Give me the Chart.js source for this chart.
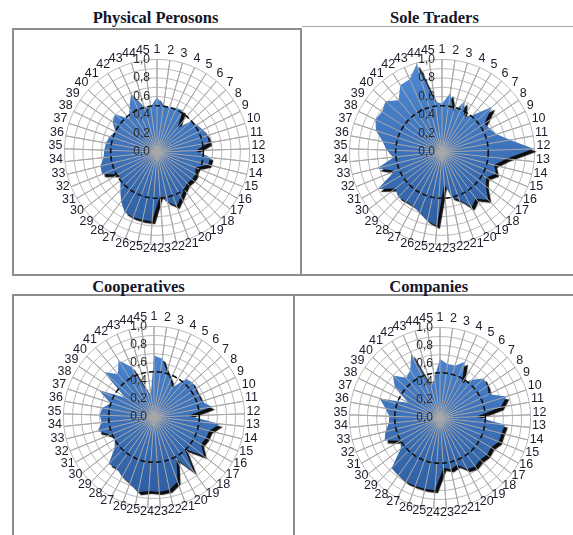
<!DOCTYPE html>
<html>
<head>
<meta charset="utf-8">
<script src="https://cdn.jsdelivr.net/npm/chart.js@4.4.1/dist/chart.umd.min.js"></script>
<style>
  html, body { margin: 0; padding: 0; background: #fff; }
  body { width: 573px; height: 535px; position: relative; overflow: hidden; }
  canvas { position: absolute; }
  .title { position: absolute; width: 240px; text-align: center; font-family: "Liberation Serif", "Times New Roman", serif;
           font-weight: bold; font-size: 16.5px; line-height: 20px; color: #15152a; white-space: nowrap; }
  .ln { position: absolute; background: #8c8c8c; }
</style>
</head>
<body>
<!-- frames -->
<div class="ln" style="left:12px;top:28px;width:290px;height:2px"></div>
<div class="ln" style="left:12px;top:28px;width:2px;height:248px"></div>
<div class="ln" style="left:300px;top:28px;width:2px;height:248px"></div>
<div class="ln" style="left:12px;top:274px;width:561px;height:2px"></div>
<div class="ln" style="left:302px;top:26px;width:271px;height:1px;background:#a8a8a8"></div>
<div class="ln" style="left:12px;top:294px;width:561px;height:2px"></div>
<div class="ln" style="left:12px;top:294px;width:2px;height:241px"></div>
<div class="ln" style="left:293px;top:294px;width:2px;height:241px"></div>

<div class="title" style="left:35.5px;top:8px">Physical Perosons</div>
<div class="title" style="left:314.5px;top:7.5px">Sole Traders</div>
<div class="title" style="left:18.5px;top:276.5px">Cooperatives</div>
<div class="title" style="left:308.7px;top:276.5px">Companies</div>

<canvas id="c1" width="219" height="219" style="left:48px;top:43px"></canvas>
<canvas id="c2" width="219" height="219" style="left:333px;top:43px"></canvas>
<canvas id="c3" width="215" height="215" style="left:47px;top:310px"></canvas>
<canvas id="c4" width="215" height="215" style="left:333px;top:311px"></canvas>

<script>
// ---- data ----
const categories = ['1','2','3','4','5','6','7','8','9','10','11','12','13','14','15','16','17','18','19','20',
  '21','22','23','24','25','26','27','28','29','30','31','32','33','34','35','36','37','38','39','40',
  '41','42','43','44','45'];

const physicalPersons = [0.59,0.50,0.50,0.52,0.53,0.34,0.50,0.52,0.55,0.57,0.57,0.42,0.58,0.57,0.45,
  0.48,0.48,0.47,0.50,0.55,0.62,0.55,0.47,0.75,0.75,0.75,0.74,0.66,0.57,0.50,
  0.48,0.64,0.63,0.58,0.57,0.56,0.54,0.50,0.58,0.61,0.47,0.56,0.69,0.50,0.49];

const soleTraders = [0.52,0.64,0.45,0.60,0.45,0.52,0.73,0.55,0.57,0.62,0.75,0.99,0.70,0.58,0.63,
  0.55,0.60,0.72,0.62,0.68,0.55,0.50,0.35,0.80,0.76,0.70,0.66,0.66,0.68,0.64,
  0.80,0.55,0.72,0.52,0.60,0.65,0.75,0.80,0.78,0.82,0.73,0.85,0.86,0.99,0.55];

const cooperatives = [0.68,0.65,0.52,0.45,0.38,0.55,0.57,0.55,0.55,0.55,0.65,0.38,0.73,0.63,0.62,
  0.60,0.70,0.49,0.75,0.53,0.76,0.82,0.83,0.82,0.85,0.78,0.75,0.70,0.72,0.55,
  0.50,0.52,0.64,0.58,0.60,0.58,0.50,0.68,0.38,0.74,0.62,0.74,0.60,0.30,0.25];

const companies = [0.65,0.60,0.60,0.68,0.45,0.55,0.65,0.63,0.60,0.77,0.68,0.40,0.72,0.70,0.70,
  0.65,0.66,0.64,0.66,0.64,0.55,0.58,0.55,0.80,0.80,0.80,0.80,0.78,0.77,0.55,
  0.50,0.66,0.62,0.57,0.56,0.61,0.70,0.38,0.60,0.70,0.58,0.62,0.78,0.35,0.45];

const tickValues = [0, 0.2, 0.4, 0.6, 0.8, 1.0];
const tickLabels = ['0,0', '0,2', '0,4', '0,6', '0,8', '1,0'];
const referenceLevel = 0.5;

// ---- style ----
const RING_COLOR = '#b9b9b9';
const SPOKE_COLOR = '#a9a9a9';
const LABEL_FONT = '"Liberation Sans", Arial, sans-serif';
const TICK_FONT = '12px "Liberation Sans Narrow", "Liberation Sans", Arial, sans-serif';
const LABEL_COLOR = '#1d1d2b';
const LABEL_SIZE = 12.5;
const LABEL_PAD = 2;
const LABEL_H = 10;
const LABEL_SHIFT = 2.5;

const overlay = {
  id: 'overlay',
  beforeDatasetsDraw(chart) {
    const ctx = chart.ctx;
    ctx.save();
    ctx.shadowColor = 'rgba(0,0,0,0.95)';
    ctx.shadowOffsetX = 3;
    ctx.shadowOffsetY = 3;
    ctx.shadowBlur = 1;
  },
  afterDatasetsDraw(chart) {
    const ctx = chart.ctx;
    ctx.restore();
    const s = chart.scales.r;
    const labels = chart.data.labels;
    const n = labels.length;
    ctx.save();
    // spokes over the filled area
    ctx.strokeStyle = SPOKE_COLOR;
    ctx.lineWidth = 1;
    for (let i = 0; i < n; i++) {
      const p = s.getPointPositionForValue(i, s.max);
      ctx.beginPath();
      ctx.moveTo(s.xCenter, s.yCenter);
      ctx.lineTo(p.x, p.y);
      ctx.stroke();
    }
    // dashed reference ring
    const r = s.getDistanceFromCenterForValue(referenceLevel);
    ctx.setLineDash([5, 3]);
    ctx.strokeStyle = '#111';
    ctx.lineWidth = 1.6;
    ctx.beginPath();
    ctx.arc(s.xCenter, s.yCenter, r, 0, Math.PI * 2);
    ctx.stroke();
    ctx.setLineDash([]);
    // value tick labels (left of the vertical axis)
    ctx.font = TICK_FONT;
    ctx.fillStyle = '#2a2a2a';
    ctx.textAlign = 'right';
    ctx.textBaseline = 'middle';
    tickValues.forEach((v, k) => {
      const d = s.getDistanceFromCenterForValue(v);
      ctx.fillText(tickLabels[k], s.xCenter - 7, s.yCenter - d);
    });
    // category labels, centred outward from each spoke end
    ctx.font = LABEL_SIZE + 'px ' + LABEL_FONT;
    ctx.fillStyle = LABEL_COLOR;
    ctx.textAlign = 'center';
    for (let i = 0; i < n; i++) {
      const p = s.getPointPosition(i, s.drawingArea + LABEL_PAD);
      const w = ctx.measureText(labels[i]).width;
      const cx = p.x + Math.cos(p.angle) * w / 2;
      const cy = p.y + Math.sin(p.angle) * LABEL_H / 2 - LABEL_SHIFT;
      ctx.fillText(labels[i], cx, cy);
    }
    ctx.restore();
  }
};

function fillGradient(c) {
  const chart = c.chart;
  const s = chart.scales && chart.scales.r;
  if (!s || !s.drawingArea) return '#3a6fc0';
  const g = chart.ctx.createLinearGradient(0, s.yCenter - s.drawingArea, 0, s.yCenter + s.drawingArea);
  g.addColorStop(0, '#4f8ad6');
  g.addColorStop(1, '#2b5a9e');
  return g;
}

function makeRadar(id, values) {
  new Chart(document.getElementById(id), {
    type: 'radar',
    data: {
      labels: categories,
      datasets: [{
        data: values,
        fill: true,
        backgroundColor: fillGradient,
        borderColor: 'rgba(0,0,0,0)',
        borderWidth: 0,
        pointRadius: 0,
        pointHoverRadius: 0
      }]
    },
    options: {
      responsive: false,
      animation: false,
      events: [],
      plugins: { legend: { display: false }, tooltip: { enabled: false } },
      scales: {
        r: {
          min: 0,
          max: 1,
          ticks: { display: false, stepSize: 0.1 },
          grid: { color: RING_COLOR, lineWidth: 1, circular: true },
          angleLines: { color: SPOKE_COLOR, lineWidth: 1 },
          pointLabels: { font: { family: LABEL_FONT, size: 12 }, color: 'rgba(0,0,0,0)', padding: 2 }
        }
      }
    },
    plugins: [overlay]
  });
}

makeRadar('c1', physicalPersons);
makeRadar('c2', soleTraders);
makeRadar('c3', cooperatives);
makeRadar('c4', companies);
</script>
</body>
</html>
